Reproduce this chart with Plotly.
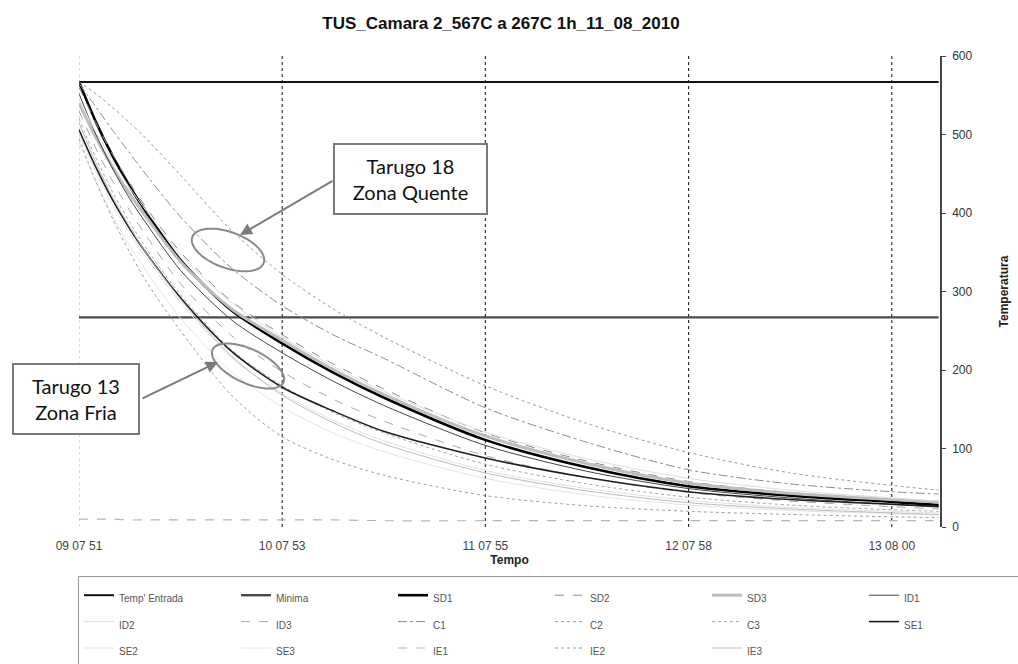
import numpy as np
import plotly.graph_objects as go

# ---------------- data ----------------
times = ["2010-08-11 09:07:51", "2010-08-11 09:12:51", "2010-08-11 09:17:51",
         "2010-08-11 09:22:51", "2010-08-11 09:27:51", "2010-08-11 09:37:51",
         "2010-08-11 09:52:51", "2010-08-11 10:07:51", "2010-08-11 10:22:51",
         "2010-08-11 10:37:51", "2010-08-11 11:07:51", "2010-08-11 11:37:51",
         "2010-08-11 12:07:51", "2010-08-11 12:37:51", "2010-08-11 13:07:51",
         "2010-08-11 13:21:51"]

temp_entrada = [567] * 16
minima       = [267] * 16
SD1 = [567, 516, 472, 434, 400, 340, 276, 234, 197, 165, 111, 76, 52, 40, 32, 28]
SD2 = [560, 515, 474, 438, 406, 350, 288, 245, 208, 176, 120, 84, 58, 44, 35, 31]
SD3 = [540, 496, 458, 424, 394, 338, 278, 238, 201, 169, 116, 81, 56, 43, 35, 32]
ID1 = [552, 500, 456, 418, 386, 327, 264, 222, 186, 155, 104, 71, 49, 37, 29, 26]
ID2 = [545, 503, 466, 432, 402, 347, 286, 242, 205, 173, 121, 87, 62, 47, 37, 33]
ID3 = [530, 482, 440, 403, 370, 310, 244, 198, 163, 135, 91, 63, 44, 33, 26, 23]
C1  = [565, 535, 505, 476, 448, 395, 330, 282, 245, 215, 152, 108, 73, 55, 45, 42]
C2  = [567, 552, 534, 515, 494, 448, 378, 322, 278, 242, 180, 132, 95, 69, 53, 47]
C3  = [520, 470, 426, 388, 354, 296, 226, 180, 146, 120, 80, 55, 38, 28, 22, 20]
SE1 = [506, 458, 416, 380, 348, 292, 224, 178, 148, 122, 88, 63, 45, 35, 29, 26]
SE2 = [500, 452, 410, 374, 342, 286, 216, 170, 136, 110, 72, 49, 34, 25, 20, 18]
SE3 = [490, 440, 396, 358, 325, 266, 198, 153, 120, 96, 62, 41, 28, 21, 17, 15]
IE1 = [10, 10, 10, 9, 9, 9, 9, 9, 9, 8, 8, 8, 8, 8, 8, 8]
IE2 = [495, 440, 392, 350, 312, 250, 168, 115, 86, 66, 40, 27, 20, 16, 13, 12]
IE3 = [515, 464, 420, 382, 348, 290, 218, 168, 133, 106, 69, 46, 31, 23, 18, 16]

tick_vals = ["2010-08-11 09:07:51", "2010-08-11 10:07:53", "2010-08-11 11:07:55",
             "2010-08-11 12:07:58", "2010-08-11 13:08:00"]
tick_text = ["09 07 51", "10 07 53", "11 07 55", "12 07 58", "13 08 00"]

# ---------------- styles ----------------
series = [
    ("Temp' Entrada", temp_entrada, "#111111", 2.0, "solid"),
    ("Minima", minima, "#4a4a4a", 2.4, "solid"),
    ("SD1", SD1, "#000000", 2.6, "solid"),
    ("SD2", SD2, "#8a8a8a", 1.0, "dash"),
    ("SD3", SD3, "#bdbdbd", 3.0, "solid"),
    ("ID1", ID1, "#444444", 1.0, "solid"),
    ("ID2", ID2, "#dedede", 1.0, "solid"),
    ("ID3", ID3, "#a8a8a8", 1.0, "dash"),
    ("C1", C1, "#8c8c8c", 1.0, "dashdot"),
    ("C2", C2, "#9a9a9a", 1.0, "dot"),
    ("C3", C3, "#a5a5a5", 1.0, "dot"),
    ("SE1", SE1, "#1e1e1e", 1.6, "solid"),
    ("SE2", SE2, "#e2e2e2", 1.0, "solid"),
    ("SE3", SE3, "#e6e6e6", 1.0, "solid"),
    ("IE1", IE1, "#b5b5b5", 1.2, "dash"),
    ("IE2", IE2, "#9f9f9f", 1.0, "dot"),
    ("IE3", IE3, "#bcbcbc", 1.0, "solid"),
]

fig = go.Figure()
for name, vals, col, w, dash in series:
    fig.add_trace(go.Scatter(
        x=times, y=vals, mode="lines",
        name=f'<span style="font-size:10px">{name}</span>',
        line=dict(color=col, width=w, dash=dash, shape="spline", smoothing=0.8)))

W, H = 1018, 664
L, R, T, B = 79, 940, 56, 527


def px2paper(x, y):
    return (x - L) / (R - L), (B - y) / (B - T)


def ellipse_path(cx, cy, a, b, ang_deg):
    t = np.linspace(0, 2 * np.pi, 60)
    ang = np.radians(ang_deg)
    xs = cx + a * np.cos(t) * np.cos(ang) - b * np.sin(t) * np.sin(ang)
    ys = cy + a * np.cos(t) * np.sin(ang) + b * np.sin(t) * np.cos(ang)
    pts = [px2paper(x, y) for x, y in zip(xs, ys)]
    return "M " + " L ".join(f"{px:.5f},{py:.5f}" for px, py in pts) + " Z"


shapes = []
# vertical dashed grid lines at the time ticks (first one, on the left edge, is faint)
for i, tv in enumerate(tick_vals):
    shapes.append(dict(type="line", xref="x", yref="paper", x0=tv, x1=tv, y0=0, y1=1,
                       layer="below",
                       line=dict(color="#bbbbbb" if i == 0 else "#222222", width=1.1,
                                 dash="3px,3px")))
shapes += [
    dict(type="path", xref="paper", yref="paper",
         path=ellipse_path(228, 250, 38, 18, 20), line=dict(color="#8a8a8a", width=2)),
    dict(type="path", xref="paper", yref="paper",
         path=ellipse_path(248, 366, 39, 17, 25), line=dict(color="#8a8a8a", width=2)),
]

ann = []
for text, cx, cy, bw_, bh_ in [("Tarugo 18<br>Zona Quente", 410, 179, 151, 68),
                                ("Tarugo 13<br>Zona Fria", 76, 399, 124, 68)]:
    px, py = px2paper(cx, cy)
    ann.append(dict(xref="paper", yref="paper", x=px, y=py, text=text, showarrow=False,
                    font=dict(family="Lato, Open Sans, sans-serif", size=20, color="#111"),
                    bgcolor="white", bordercolor="#7a7a7a", borderwidth=2, borderpad=0,
                    width=bw_, height=bh_, align="center", xanchor="center",
                    yanchor="middle"))
for hx, hy, tx, ty in [(240, 235, 334, 180), (218, 362, 141, 399)]:
    px, py = px2paper(hx, hy)
    ann.append(dict(xref="paper", yref="paper", x=px, y=py, text="", showarrow=True,
                    ax=tx - hx, ay=ty - hy, arrowhead=2, arrowsize=1.2, arrowwidth=2,
                    arrowcolor="#7a7a7a", standoff=0))

fig.update_layout(
    width=W, height=H,
    margin=dict(l=L, r=W - R, t=T, b=H - B, autoexpand=False),
    paper_bgcolor="white", plot_bgcolor="white",
    font=dict(family="Liberation Sans, Arial, sans-serif", size=12, color="#333"),
    title=dict(text="<b>TUS_Camara 2_567C a 267C 1h_11_08_2010</b>",
               x=(501 - L) / (R - L), xref="paper", xanchor="center",
               y=1 - 23 / H, yref="container", yanchor="middle",
               font=dict(size=17, color="#111")),
    xaxis=dict(type="date", range=["2010-08-11 09:07:51", "2010-08-11 13:22:15"],
               tickvals=tick_vals, ticktext=tick_text, showgrid=False,
               zeroline=False, showline=False, ticks="",
               automargin=False, ticklabelstandoff=10,
               tickfont=dict(size=12, color="#444"),
               title=dict(text="<b>Tempo</b>", font=dict(size=12, color="#222"), standoff=1)),
    yaxis=dict(side="right", range=[0, 600], dtick=100, showgrid=False, zeroline=False,
               showline=True, linecolor="#444", linewidth=1.6, ticks="outside", ticklen=4,
               tickcolor="#444", automargin=False, ticklabelstandoff=4,
               tickfont=dict(size=12, color="#333"),
               title=dict(text="<b>Temperatura</b>", font=dict(size=12, color="#222"),
                          standoff=28)),
    legend=dict(orientation="h", x=(78 - L) / (R - L), xanchor="left",
                y=-(576 - B) / (B - T), yanchor="top", entrywidth=112,
                entrywidthmode="pixels", bordercolor="#999", borderwidth=1,
                font=dict(size=18, color="#555"), bgcolor="white"),
    shapes=shapes, annotations=ann, showlegend=True,
)

fig.write_html("out.html", config={"displayModeBar": False},
               post_script="document.body.style.margin='0';"
                           "document.documentElement.style.overflow='hidden';")
